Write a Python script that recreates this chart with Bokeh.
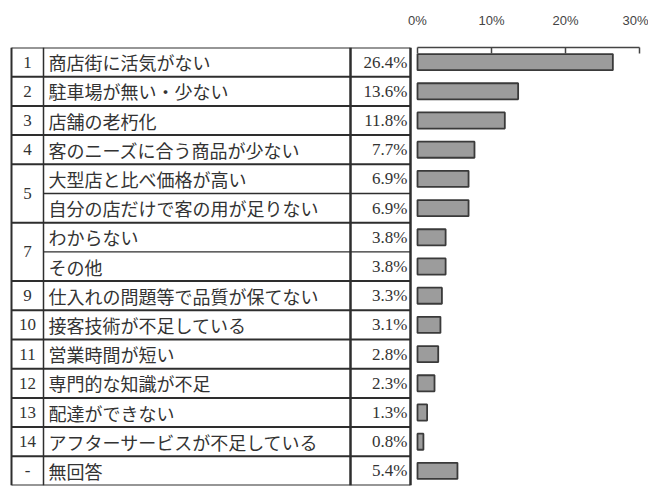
from bokeh.plotting import figure
from bokeh.models import Range1d, LinearAxis, FixedTicker, ColumnDataSource
from bokeh.core.properties import value
from bokeh.embed import file_html
from bokeh.resources import INLINE

# ---------------- data ----------------
ranks = ["1", "2", "3", "4", "5", "5", "7", "7", "9", "10", "11", "12", "13", "14", "-"]
items = [
    "商店街に活気がない",
    "駐車場が無い・少ない",
    "店舗の老朽化",
    "客のニーズに合う商品が少ない",
    "大型店と比べ価格が高い",
    "自分の店だけで客の用が足りない",
    "わからない",
    "その他",
    "仕入れの問題等で品質が保てない",
    "接客技術が不足している",
    "営業時間が短い",
    "専門的な知識が不足",
    "配達ができない",
    "アフターサービスが不足している",
    "無回答",
]
values = [26.4, 13.6, 11.8, 7.7, 6.9, 6.9, 3.8, 3.8, 3.3, 3.1, 2.8, 2.3, 1.3, 0.8, 5.4]
ticks = [0, 10, 20, 30]
tick_labels = ["0%", "10%", "20%", "30%"]

# ---------------- layout ----------------
FIG_W, FIG_H = 648, 488
PX_PER_UNIT = 7.4          # pixels per percentage point
ZERO_PAGE_X = 417          # page x of 0 %
PAGE_MARGIN = 0
xmin = -(ZERO_PAGE_X - PAGE_MARGIN) / PX_PER_UNIT
xmax = xmin + FIG_W / PX_PER_UNIT


def px(page_x):
    return (page_x - ZERO_PAGE_X) / PX_PER_UNIT


COL_LEFT, COL_RANK, COL_PCT, COL_RIGHT = px(11), px(43), px(350), px(410)
n = len(values)

p = figure(width=FIG_W, height=FIG_H,
           x_range=Range1d(xmin, xmax), y_range=Range1d(n, 0),
           x_axis_type=None, y_axis_type=None,
           output_backend="svg", toolbar_location=None,
           min_border_left=0, min_border_right=0,
           min_border_top=47, min_border_bottom=3)
p.outline_line_color = None
p.background_fill_color = "white"

LINE = "#2e2e2e"
TEXT = "#333333"

# table lines
x0s, x1s, ys, ws = [], [], [], []
for b in range(n + 1):
    inner = 0 < b < n and ranks[b] == ranks[b - 1]
    x0s.append(COL_RANK if inner else COL_LEFT)
    x1s.append(COL_RIGHT)
    ys.append(b)
    ws.append(1.3 if inner else 2.0)
p.segment(x0=x0s, y0=ys, x1=x1s, y1=ys, line_color=LINE, line_width=ws)
vx = [COL_LEFT, COL_RANK, COL_PCT, COL_RIGHT]
p.segment(x0=vx, y0=[0] * 4, x1=vx, y1=[n] * 4, line_color=LINE,
          line_width=[2.0, 1.5, 2.5, 2.5])

# rank labels (merged cells)
rk_txt, rk_y = [], []
i = 0
while i < n:
    j = i
    while j + 1 < n and ranks[j + 1] == ranks[i]:
        j += 1
    rk_txt.append(ranks[i])
    rk_y.append((i + j + 1) / 2)
    i = j + 1
p.text(x=[(COL_LEFT + COL_RANK) / 2] * len(rk_txt), y=rk_y, text=rk_txt,
       text_font=value("Liberation Serif"), text_font_size="17px",
       text_align="center", text_baseline="middle", text_color=TEXT)

rows = [k + 0.5 for k in range(n)]
p.text(x=[COL_RANK + px(5) - px(0)] * n, y=rows, text=items,
       text_font=value("Noto Sans CJK JP"), text_font_size="18px",
       text_align="left", text_baseline="middle", text_color=TEXT)
p.text(x=[COL_RIGHT - (px(3) - px(0))] * n, y=rows,
       text=[f"{v:.1f}%" for v in values],
       text_font=value("Liberation Serif"), text_font_size="17px",
       text_align="right", text_baseline="middle", text_color=TEXT)

# bars
src = ColumnDataSource(dict(y=rows, v=values))
p.hbar(y="y", left=0, right="v", height=0.55, source=src,
       fill_color="#9c9c9c", line_color="#3a3a3a", line_width=1.8)

# axis on top
axis = LinearAxis(ticker=FixedTicker(ticks=ticks), bounds=(ticks[0], ticks[-1]),
                  major_label_overrides={t: l for t, l in zip(ticks, tick_labels)})
axis.major_tick_in = 6
axis.major_tick_out = 0
axis.minor_tick_in = 0
axis.minor_tick_out = 0
axis.axis_line_width = 1.5
axis.axis_line_color = "#444444"
axis.major_tick_line_color = "#444444"
axis.major_tick_line_width = 1.5
axis.major_label_standoff = 20
axis.major_label_text_font = "Liberation Sans"
axis.major_label_text_font_size = "13px"
axis.major_label_text_color = "#444444"
p.add_layout(axis, "above")

open("out.html", "w").write(file_html(p, INLINE))
